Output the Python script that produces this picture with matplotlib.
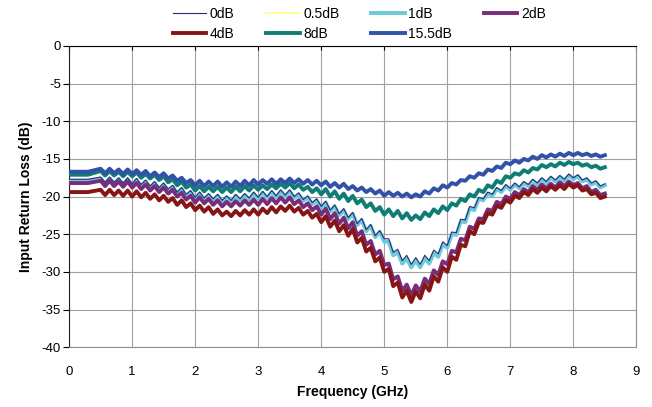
import numpy as np
import matplotlib
matplotlib.use("Agg")
import matplotlib.pyplot as plt

plt.rcParams['font.family'] = ['Liberation Sans', 'DejaVu Sans']
plt.rcParams['axes.unicode_minus'] = False

# frequency sweep (GHz): flat start, then 1/14 GHz steps
freq = np.concatenate([[0.0, 0.3], np.linspace(0.5, 8.5, 113)])

rl_15p5 = [-16.7, -16.7,
    -16.3, -16.9, -16.3, -16.9, -16.4, -17.0, -16.4,
    -17.0, -16.5, -17.1, -16.6, -17.3, -16.8, -17.4,
    -16.9, -17.6, -17.2, -17.9, -17.5, -18.2, -17.8,
    -18.5, -17.9, -18.6, -18.0, -18.6, -18.0, -18.7,
    -18.1, -18.7, -18.0, -18.6, -17.9, -18.5, -17.8,
    -18.4, -17.8, -18.3, -17.7, -18.3, -17.7, -18.2,
    -17.6, -18.2, -17.7, -18.3, -17.8, -18.4, -17.9,
    -18.5, -18.0, -18.7, -18.2, -18.8, -18.3, -19.0,
    -18.6, -19.2, -18.8, -19.4, -19.0, -19.6, -19.2,
    -19.9, -19.4, -19.9, -19.5, -20.0, -19.6, -20.1,
    -19.7, -20.0, -19.3, -19.6, -18.9, -19.2, -18.5,
    -18.8, -18.2, -18.4, -17.8, -17.9, -17.3, -17.5,
    -16.9, -17.1, -16.4, -16.6, -16.0, -16.2, -15.5,
    -15.7, -15.2, -15.5, -15.0, -15.2, -14.7, -15.0,
    -14.5, -14.8, -14.4, -14.7, -14.3, -14.6, -14.2,
    -14.5, -14.2, -14.5, -14.3, -14.6, -14.4, -14.7,
    -14.5]

rl_8 = [-17.1, -17.1,
    -16.6, -17.2, -16.6, -17.2, -16.7, -17.3, -16.7,
    -17.3, -16.8, -17.5, -17.0, -17.6, -17.1, -17.8,
    -17.3, -18.1, -17.7, -18.5, -18.0, -18.8, -18.4,
    -19.2, -18.6, -19.3, -18.7, -19.3, -18.7, -19.4,
    -18.8, -19.4, -18.7, -19.3, -18.6, -19.2, -18.5,
    -19.1, -18.5, -19.0, -18.4, -18.9, -18.3, -18.8,
    -18.2, -18.9, -18.4, -19.1, -18.7, -19.4, -18.9,
    -19.7, -19.0, -20.0, -19.3, -20.3, -19.6, -20.6,
    -19.9, -20.9, -20.4, -21.4, -20.9, -21.9, -21.4,
    -22.4, -21.7, -22.6, -21.9, -22.9, -22.2, -23.1,
    -22.5, -23.0, -22.1, -22.6, -21.7, -22.2, -21.3,
    -21.8, -20.9, -21.2, -20.3, -20.6, -19.7, -20.0,
    -19.1, -19.4, -18.5, -18.8, -17.9, -18.2, -17.3,
    -17.5, -16.9, -17.1, -16.5, -16.8, -16.2, -16.4,
    -15.8, -16.1, -15.7, -16.0, -15.5, -15.8, -15.4,
    -15.7, -15.5, -15.9, -15.7, -16.1, -15.9, -16.3,
    -16.1]

rl_1 = [-17.9, -17.9,
    -17.6, -18.3, -17.6, -18.3, -17.7, -18.4, -17.7,
    -18.5, -17.8, -18.6, -18.0, -18.8, -18.2, -19.0,
    -18.4, -19.2, -18.7, -19.6, -19.0, -19.9, -19.4,
    -20.3, -19.6, -20.4, -19.8, -20.5, -19.9, -20.7,
    -20.1, -20.7, -19.9, -20.5, -19.8, -20.4, -19.6,
    -20.3, -19.5, -20.2, -19.4, -20.1, -19.3, -20.0,
    -19.3, -20.2, -19.7, -20.6, -20.1, -21.0, -20.5,
    -21.5, -20.8, -22.0, -21.3, -22.5, -21.8, -23.0,
    -22.3, -23.8, -23.1, -24.6, -23.9, -25.4, -24.7,
    -26.0, -26.0, -27.8, -27.4, -28.9, -28.2, -29.4,
    -28.5, -29.4, -28.2, -28.9, -27.5, -28.0, -26.4,
    -26.8, -25.0, -25.1, -23.3, -23.4, -21.6, -21.8,
    -20.3, -20.5, -19.6, -19.9, -19.0, -19.4, -18.6,
    -19.1, -18.4, -18.9, -18.2, -18.6, -17.9, -18.4,
    -17.7, -18.2, -17.5, -18.0, -17.4, -17.9, -17.2,
    -17.7, -17.3, -18.0, -17.7, -18.4, -18.1, -18.8,
    -18.5]

rl_0p5 = [-17.9, -17.9,
    -17.6, -18.3, -17.6, -18.3, -17.7, -18.4, -17.7,
    -18.5, -17.8, -18.6, -18.0, -18.8, -18.2, -19.0,
    -18.4, -19.2, -18.7, -19.6, -19.0, -19.9, -19.4,
    -20.3, -19.6, -20.4, -19.8, -20.5, -19.9, -20.7,
    -20.1, -20.7, -19.9, -20.5, -19.8, -20.4, -19.6,
    -20.3, -19.5, -20.2, -19.4, -20.1, -19.3, -20.0,
    -19.3, -20.2, -19.7, -20.6, -20.1, -21.0, -20.5,
    -21.5, -20.8, -22.0, -21.3, -22.5, -21.8, -23.0,
    -22.3, -23.8, -23.1, -24.6, -23.9, -25.4, -24.7,
    -26.0, -26.0, -27.8, -27.4, -28.9, -28.2, -29.4,
    -28.5, -29.4, -28.2, -28.9, -27.5, -28.0, -26.4,
    -26.8, -25.0, -25.1, -23.3, -23.4, -21.6, -21.8,
    -20.3, -20.5, -19.6, -19.9, -19.0, -19.4, -18.6,
    -19.1, -18.4, -18.9, -18.2, -18.6, -17.9, -18.4,
    -17.7, -18.2, -17.5, -18.0, -17.4, -17.9, -17.2,
    -17.7, -17.3, -18.0, -17.7, -18.4, -18.1, -18.8,
    -18.5]

rl_0 = [-17.7, -17.7,
    -17.4, -18.1, -17.4, -18.1, -17.5, -18.2, -17.5,
    -18.3, -17.6, -18.4, -17.8, -18.6, -18.0, -18.8,
    -18.2, -19.0, -18.5, -19.4, -18.8, -19.7, -19.2,
    -20.1, -19.4, -20.2, -19.6, -20.3, -19.7, -20.5,
    -19.9, -20.5, -19.7, -20.3, -19.6, -20.2, -19.4,
    -20.1, -19.3, -20.0, -19.2, -19.9, -19.1, -19.8,
    -19.1, -20.0, -19.5, -20.4, -19.9, -20.8, -20.3,
    -21.3, -20.6, -21.8, -21.1, -22.3, -21.6, -22.8,
    -22.1, -23.6, -22.9, -24.4, -23.7, -25.2, -24.5,
    -25.6, -25.6, -27.4, -27.0, -28.5, -27.8, -29.0,
    -28.1, -29.0, -27.8, -28.5, -27.1, -27.6, -26.0,
    -26.5, -24.7, -24.8, -23.0, -23.1, -21.3, -21.5,
    -20.1, -20.3, -19.4, -19.7, -18.8, -19.2, -18.4,
    -18.9, -18.2, -18.7, -18.0, -18.4, -17.7, -18.2,
    -17.5, -18.0, -17.3, -17.8, -17.2, -17.7, -17.0,
    -17.5, -17.1, -17.8, -17.5, -18.2, -17.9, -18.6,
    -18.3]

rl_2 = [-18.2, -18.2,
    -17.9, -18.6, -17.9, -18.6, -18.0, -18.7, -18.0,
    -18.8, -18.2, -19.0, -18.4, -19.2, -18.6, -19.4,
    -18.8, -19.6, -19.1, -20.0, -19.5, -20.4, -19.9,
    -20.8, -20.1, -20.9, -20.3, -21.1, -20.5, -21.3,
    -20.7, -21.3, -20.6, -21.2, -20.5, -21.1, -20.4,
    -21.1, -20.3, -21.0, -20.2, -20.9, -20.1, -20.8,
    -20.1, -21.0, -20.5, -21.4, -20.9, -21.8, -21.3,
    -22.4, -21.6, -23.0, -22.2, -23.6, -22.8, -24.2,
    -23.4, -25.2, -24.6, -26.4, -25.9, -27.7, -27.2,
    -29.1, -28.9, -31.0, -30.6, -32.5, -31.7, -33.1,
    -31.8, -32.6, -30.9, -31.6, -29.8, -30.4, -28.6,
    -29.0, -27.2, -27.4, -25.6, -25.8, -24.0, -24.3,
    -22.9, -23.0, -21.7, -21.9, -20.7, -21.0, -20.0,
    -20.3, -19.4, -19.8, -19.0, -19.4, -18.6, -19.1,
    -18.4, -18.9, -18.3, -18.8, -18.1, -18.6, -18.0,
    -18.5, -18.2, -18.9, -18.6, -19.4, -19.1, -19.8,
    -19.6]

rl_4 = [-19.4, -19.4,
    -19.1, -19.8, -19.1, -19.8, -19.2, -19.9, -19.2,
    -20.0, -19.3, -20.1, -19.5, -20.3, -19.7, -20.5,
    -19.9, -20.7, -20.2, -21.1, -20.5, -21.4, -20.9,
    -21.8, -21.2, -22.0, -21.4, -22.3, -21.7, -22.5,
    -22.0, -22.6, -21.9, -22.5, -21.8, -22.4, -21.7,
    -22.4, -21.6, -22.2, -21.4, -22.1, -21.3, -21.9,
    -21.2, -22.0, -21.5, -22.4, -21.9, -22.8, -22.3,
    -23.4, -22.6, -24.0, -23.2, -24.6, -23.8, -25.2,
    -24.3, -26.1, -25.5, -27.3, -26.8, -28.6, -28.1,
    -30.0, -29.6, -31.9, -31.4, -33.4, -32.5, -34.0,
    -32.6, -33.5, -31.7, -32.5, -30.6, -31.3, -29.4,
    -30.0, -28.0, -28.4, -26.4, -26.6, -24.6, -25.0,
    -23.4, -23.5, -22.2, -22.4, -21.2, -21.5, -20.5,
    -20.8, -19.9, -20.2, -19.4, -19.8, -19.0, -19.5,
    -18.8, -19.3, -18.6, -19.1, -18.5, -19.0, -18.3,
    -18.8, -18.5, -19.2, -19.0, -19.7, -19.5, -20.2,
    -20.0]

labels = ['0dB', '0.5dB', '1dB', '2dB', '4dB', '8dB', '15.5dB']
series = [rl_0, rl_0p5, rl_1, rl_2, rl_4, rl_8, rl_15p5]
colors = ['#2a2a7a', '#ffff80', '#6ccbd8', '#7a2c7c', '#861616', '#0f7d74', '#3152a8']
widths = [0.8, 1.2, 2.8, 2.8, 2.8, 2.8, 2.8]
zorders = [10, 3, 4, 5, 6, 7, 8]

fig = plt.figure(figsize=(6.52, 4.07), dpi=100)
ax = fig.add_axes([0.106, 0.147, 0.870, 0.740])

lines = {}
for lab, y, c, w, z in zip(labels, series, colors, widths, zorders):
    lines[lab], = ax.plot(freq, y, color=c, lw=w, zorder=z, solid_joinstyle='round')

ax.set_xlim(0, 9)
ax.set_ylim(-40, 0)
ax.set_xticks(range(0, 10))
ax.set_yticks(range(-40, 1, 5))
ax.grid(True, color='#a0a0a0', lw=0.8)
ax.set_axisbelow(True)

for s in ['right', 'bottom']:
    ax.spines[s].set_color('#909090')
    ax.spines[s].set_linewidth(0.8)
ax.spines['top'].set_color('black')
ax.spines['left'].set_color('#202020')
ax.tick_params(axis='x', direction='in', length=3, top=True, bottom=False,
               labelsize=9.5, pad=13.5)
ax.tick_params(axis='y', direction='out', length=4, labelsize=9.5, pad=2)

ax.set_xlabel('Frequency (GHz)', fontsize=10, fontweight='bold', labelpad=5)
ax.set_ylabel('Input Return Loss (dB)', fontsize=10, fontweight='bold', labelpad=6)

order = ['0dB', '4dB', '0.5dB', '8dB', '1dB', '15.5dB', '2dB']
fig.legend([lines[k] for k in order], order, loc='upper center',
           bbox_to_anchor=(0.551, 0.99), ncol=4, frameon=False, fontsize=10,
           handlelength=2.4, handletextpad=0.25, columnspacing=2.3,
           labelspacing=0.45, borderpad=0.2, borderaxespad=0)

fig.savefig('out.png', dpi=100)
